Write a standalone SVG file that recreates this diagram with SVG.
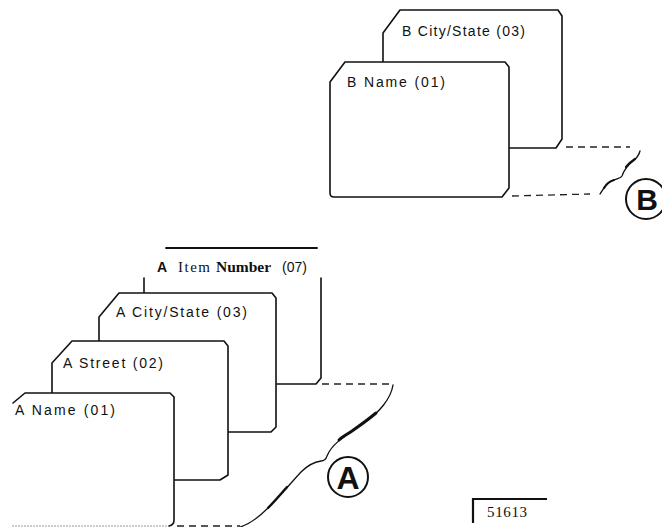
<svg xmlns="http://www.w3.org/2000/svg" width="662" height="527" viewBox="0 0 662 527">
<style>
.card{fill:#fff;stroke:#111;stroke-width:1.6;stroke-linejoin:round}
.ln{fill:none;stroke:#111;stroke-width:1.6;stroke-linejoin:round;stroke-linecap:round}
.dash{fill:none;stroke:#222;stroke-width:1.3;stroke-dasharray:7 5}
.wave{fill:none;stroke:#111;stroke-width:1.3;stroke-linecap:round}
.thick{fill:none;stroke:#111;stroke-width:3;stroke-linecap:round}
.lbl{font-family:"Liberation Sans",Arial,sans-serif;font-size:14px;fill:#111}
.ser{font-family:"Liberation Serif","Times New Roman",serif;fill:#111}
.circ{fill:#fff;stroke:#111;stroke-width:2}
.big{font-family:"Liberation Sans",Arial,sans-serif;font-weight:bold;fill:#111;text-anchor:middle}
</style>
<rect width="662" height="527" fill="#fff"/>

<!-- B set -->
<g id="b-citystate">
<path class="card" d="M383,33 L400,10 L558,10 L562,16 L562,139 L556,148 L383,148 Z"/>
<text class="lbl" x="402" y="36" textLength="123" lengthAdjust="spacing">B City/State (03)</text>
</g>
<g id="b-name">
<path class="card" d="M330,82 L345,62 L505,62 L509,67 L509,188 L502,197 L334,197 Q330,197 330,193 Z"/>
<text class="lbl" x="347" y="87" textLength="98" lengthAdjust="spacing">B Name  (01)</text>
</g>

<!-- A set -->
<g id="a-item">
<path class="ln" d="M166,248 L317,248" style="stroke-width:1.9"/>
<path class="ln" d="M144,278 L144,293"/>
<path class="ln" d="M321,278 L321,378 L316,384 L277,384"/>
<text class="lbl" y="272"><tspan x="157" font-weight="bold">A</tspan><tspan x="178" class="ser" font-size="15" letter-spacing="1.5">Item</tspan><tspan x="216" class="ser" font-size="15.5" font-weight="bold">Number</tspan><tspan x="282">(07)</tspan></text>
</g>
<g id="a-citystate">
<path class="card" d="M99,317 L119,293 L272,293 L276,298 L276,427 L271,432 L99,432 Z"/>
<text class="lbl" x="116" y="317" textLength="131" lengthAdjust="spacing">A City/State  (03)</text>
</g>
<g id="a-street">
<path class="card" d="M52,363 L72,341 L224,341 L228,346 L228,475 L220,480 L52,480 Z"/>
<text class="lbl" x="63" y="368" textLength="100" lengthAdjust="spacing">A Street  (02)</text>
</g>
<g id="a-name">
<path d="M12,404 L25,393 L170,393 L174,397 L174,520 Q174,526 168,526 L12,526 Z" fill="#fff"/>
<path class="ln" d="M13,403 L25,393 L170,393 L174,397 L174,520 Q174,525 169,526"/>
<path d="M12,526 L168,526" fill="none" stroke="#999" stroke-width="1" stroke-dasharray="2 1"/>
<text class="lbl" x="15" y="415" textLength="100" lengthAdjust="spacing">A Name  (01)</text>
</g>

<g id="connectors">
<!-- B tear -->
<path class="dash" d="M566,147 L630,147"/>
<path class="dash" d="M512,196 L590,194"/>
<path class="wave" d="M600,194 C604,188 607,182 614,180 C619,178 621,178 622,176 C624,170 628,165 633,161 C637,158 639,155 640,151"/>
<path class="thick" d="M604,188 C607,183 610,181 614,180" style="stroke-width:2.2"/>
<path class="thick" d="M626,167 C629,163 632,161 635,159" style="stroke-width:2.2"/>
<!-- A tear -->
<path class="dash" d="M322,384 L392,384"/>
<path class="dash" d="M177,526 L240,526"/>
<path class="wave" d="M393,385 C391,398 380,412 364,423 C348,434 332,443 327,456 C326,459 324,461 321,461 C314,462 307,466 301,472 C290,484 280,496 268,508 C259,517 250,524 240,527"/>
<path class="thick" d="M376,413 C370,418 362,424 352,431 C346,435 342,437 339,440"/>
<path class="thick" d="M287,487 C281,494 276,500 268,508" style="stroke-width:2.4"/>
</g>

<g id="circle-b">
<circle class="circ" cx="646" cy="199" r="20"/>
<text class="big" x="647" y="210" font-size="30">B</text>
</g>
<g id="circle-a">
<circle class="circ" cx="348" cy="477" r="20"/>
<text class="big" x="348" y="488.5" font-size="32">A</text>
</g>

<g id="figure-number">
<path d="M473,523 L473,499 L547,499" fill="none" stroke="#111" stroke-width="2.2"/>
<text class="ser" x="487" y="517" font-size="15" textLength="40" lengthAdjust="spacing">51613</text>
</g>
</svg>
